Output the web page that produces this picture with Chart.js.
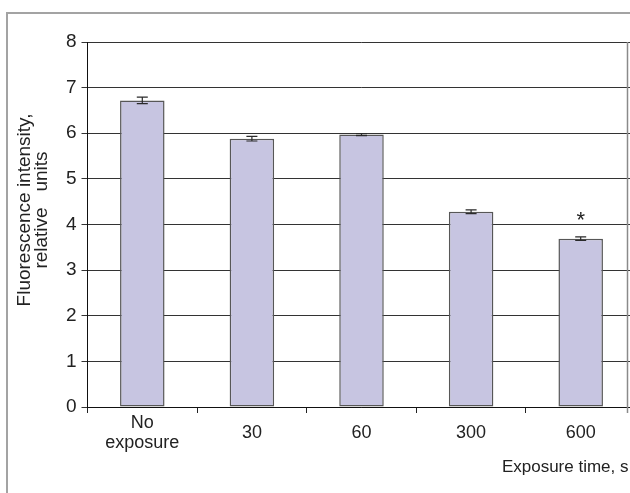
<!DOCTYPE html>
<html>
<head>
<meta charset="utf-8">
<script src="https://cdn.jsdelivr.net/npm/chart.js@4.4.1/dist/chart.umd.min.js"></script>
<style>
  html, body { margin: 0; padding: 0; background: #fff; overflow: hidden; width: 630px; height: 493px; }
  #frame { position: absolute; left: 6px; top: 12px; width: 700px; height: 600px;
           border-top: 2px solid #a3a3a3; border-left: 2px solid #a3a3a3; }
  #wrap { position: absolute; left: 0; top: 0; width: 640px; height: 493px; }
</style>
</head>
<body>
<div id="frame"></div>
<div id="wrap"><canvas id="c" width="640" height="493"></canvas></div>
<script>
const categories = [["No", "exposure"], "30", "60", "300", "600"];
const values = [6.72, 5.88, 5.97, 4.28, 3.69];
const errors = [0.07, 0.05, 0.02, 0.04, 0.04];
const marks = ["", "", "", "", "*"];
const yTicks = [0, 1, 2, 3, 4, 5, 6, 7, 8];
const yTitle = ["Fluorescence intensity,", "relative   units"];
const xTitle = "Exposure time, s";

const FONT = "'Liberation Sans', Arial, sans-serif";

const extras = {
  id: 'extras',
  afterDatasetsDraw(chart) {
    const ctx = chart.ctx;
    const y = chart.scales.y;
    const meta = chart.getDatasetMeta(0);
    ctx.save();
    ctx.strokeStyle = '#2a2a2a';
    ctx.lineWidth = 1.2;
    meta.data.forEach((bar, i) => {
      const top = y.getPixelForValue(values[i] + errors[i]);
      const bot = y.getPixelForValue(values[i] - errors[i]);
      const hw = 5.5;
      ctx.beginPath();
      ctx.moveTo(bar.x, top); ctx.lineTo(bar.x, bot);
      ctx.moveTo(bar.x - hw, top); ctx.lineTo(bar.x + hw, top);
      ctx.moveTo(bar.x - hw, bot); ctx.lineTo(bar.x + hw, bot);
      ctx.stroke();
      if (marks[i]) {
        ctx.fillStyle = '#222';
        ctx.font = '22px ' + FONT;
        ctx.textAlign = 'center';
        ctx.textBaseline = 'alphabetic';
        ctx.fillText(marks[i], bar.x, top - 10);
      }
    });
    ctx.restore();
  },
  afterDraw(chart) {
    const ctx = chart.ctx;
    const a = chart.chartArea;
    ctx.save();
    // plot-area right frame line
    ctx.strokeStyle = '#8a8a8a';
    ctx.lineWidth = 1.5;
    ctx.beginPath();
    ctx.moveTo(a.right - 8, a.top);
    ctx.lineTo(a.right - 8, a.bottom + 6);
    ctx.stroke();
    // x axis title
    ctx.fillStyle = '#222';
    ctx.font = '17px ' + FONT;
    ctx.textAlign = 'right';
    ctx.textBaseline = 'middle';
    ctx.fillText(xTitle, a.right - 7, a.bottom + 60);
    // y axis title (two lines, rotated)
    ctx.translate(33, 210);
    ctx.rotate(-Math.PI / 2);
    ctx.font = '19px ' + FONT;
    ctx.textAlign = 'center';
    ctx.textBaseline = 'middle';
    ctx.fillText(yTitle[0], 0, -8);
    ctx.fillText(yTitle[1], 0, 9);
    ctx.restore();
  }
};

new Chart(document.getElementById('c'), {
  type: 'bar',
  data: {
    labels: categories,
    datasets: [{
      data: values,
      backgroundColor: '#c7c5e1',
      borderColor: '#575757',
      borderWidth: 1.5,
      borderSkipped: false,
      categoryPercentage: 1.0,
      barPercentage: 0.406
    }]
  },
  options: {
    responsive: false,
    animation: false,
    events: [],
    layout: { padding: { top: 42, right: 4.5, left: 0, bottom: 0 } },
    plugins: { legend: { display: false }, tooltip: { enabled: false } },
    scales: {
      x: {
        offset: true,
        grid: { offset: true, drawOnChartArea: false, drawTicks: true, tickLength: 6, color: '#222', lineWidth: 1 },
        border: { display: true, color: '#111', width: 1 },
        ticks: { color: '#222', font: { family: FONT, size: 18, lineHeight: 1.1 }, padding: 10, crossAlign: 'center', maxRotation: 0, autoSkip: false },
        afterFit(s) { s.height = 86; }
      },
      y: {
        min: 0, max: 8,
        afterBuildTicks(s) { s.ticks = yTicks.map(v => ({ value: v })); },
        grid: { color: '#333', lineWidth: 1, tickLength: 6, drawTicks: true },
        border: { display: true, color: '#111', width: 1 },
        ticks: { color: '#222', font: { family: FONT, size: 19 }, padding: 5 },
        afterFit(s) { s.width = 87.5; }
      }
    }
  },
  plugins: [extras]
});
</script>
</body>
</html>
